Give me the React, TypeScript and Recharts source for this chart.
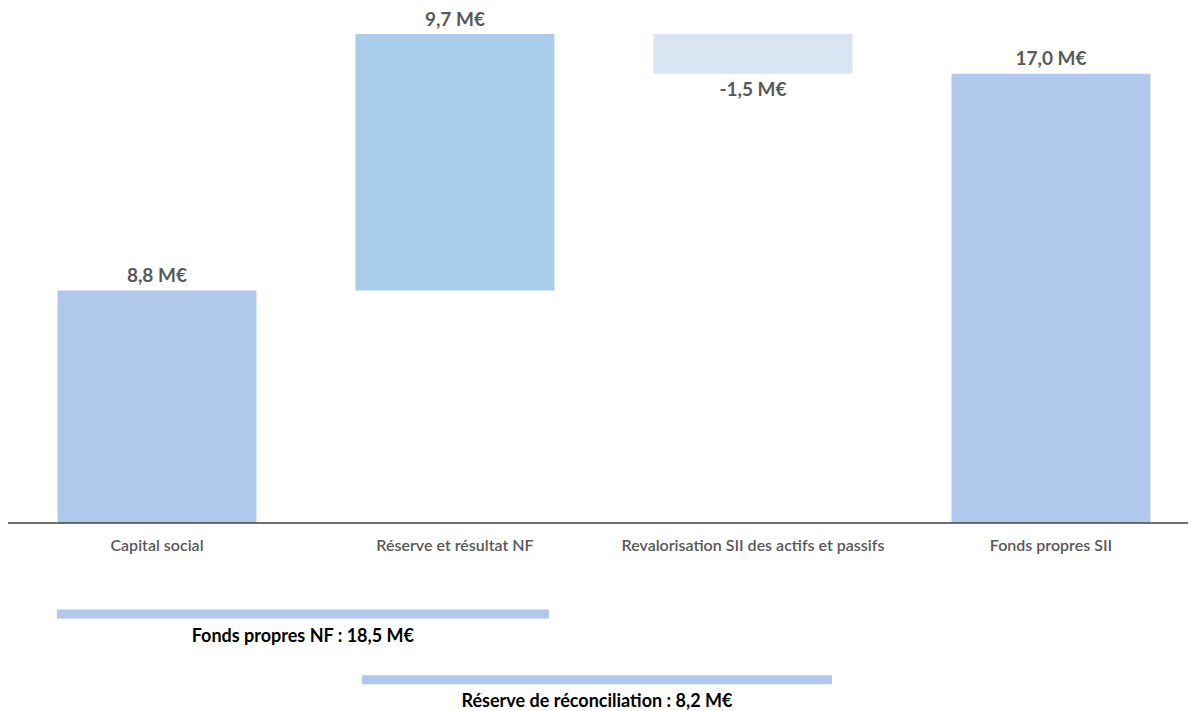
import React from "react";
import { ComposedChart, BarChart, Bar, XAxis, YAxis, Cell, LabelList } from "recharts";

const categories = [
  "Capital social",
  "Réserve et résultat NF",
  "Revalorisation SII des actifs et passifs",
  "Fonds propres SII",
];
const deltas = [8.8, 9.7, -1.5, 17.0];
const kinds = ["total", "step", "step", "total"];
const barColors = ["#afc8ec", "#aacdeb", "#dae5f4", "#afc8ec"];

const bracketLabels = ["Fonds propres NF : 18,5 M€", "Réserve de réconciliation : 8,2 M€"];
const bracketStart = [-0.336, 0.688];
const bracketEnd = [1.315, 2.265];
const bracketColor = "#afc8ec";

const fmt = (v: number) => v.toFixed(1).replace(".", ",") + " M€";

let running = 0;
const data = categories.map((name, i) => {
  const d = deltas[i];
  let base = 0;
  let size = 0;
  if (kinds[i] === "total") {
    base = 0;
    size = d;
    running = d;
  } else if (d >= 0) {
    base = running;
    size = d;
    running += d;
  } else {
    base = running + d;
    size = -d;
    running += d;
  }
  return { name, base, size, label: fmt(d), neg: d < 0 };
});

const bracketData = bracketLabels.map((label, i) => ({
  label,
  base: bracketStart[i],
  len: bracketEnd[i] - bracketStart[i],
}));

const FONT = "Lato, 'Open Sans', sans-serif";

const ValueLabel = (props: any) => {
  const { x, y, width, height, index } = props;
  const item = data[index];
  if (!item) return null;
  const cx = x + width / 2;
  const cy = item.neg ? y + height + 15 : y - 16;
  return (
    <text x={cx} y={cy} textAnchor="middle" dominantBaseline="central"
      fontFamily={FONT} fontWeight={700} fontSize={19} fill="#595959">
      {item.label}
    </text>
  );
};

const BracketLabel = (props: any) => {
  const { x, y, width, height, index } = props;
  const item = bracketData[index];
  if (!item) return null;
  return (
    <text x={x + width / 2} y={y + height + 16} textAnchor="middle" dominantBaseline="central"
      fontFamily={FONT} fontWeight={700} fontSize={18} fill="#000000">
      {item.label}
    </text>
  );
};

export default function App() {
  return (
    <div style={{ position: "relative", width: 1188, height: 703, overflow: "hidden", background: "#fff" }}>
      <div style={{ position: "absolute", left: 0, top: 0 }}>
        <ComposedChart width={1192} height={555} data={data}
          margin={{ top: 26, right: 0, left: 0, bottom: 0 }} barCategoryGap="16.6%">
          <XAxis dataKey="name" height={40} tickLine={false} tickSize={0} tickMargin={17}
            axisLine={{ stroke: "#404040", strokeWidth: 1.5 }}
            tick={{ fontFamily: FONT, fontSize: 16, fontWeight: 600, fill: "#595959" }} interval={0} />
          <YAxis hide domain={[0, 18.5]} />
          <Bar dataKey="base" stackId="w" fill="transparent" isAnimationActive={false} />
          <Bar dataKey="size" stackId="w" isAnimationActive={false}>
            {data.map((d, i) => (
              <Cell key={i} fill={barColors[i]} />
            ))}
            <LabelList dataKey="size" content={ValueLabel} />
          </Bar>
        </ComposedChart>
      </div>
      <div style={{ position: "absolute", left: 0, top: 555 }}>
        <BarChart width={1192} height={150} data={bracketData} layout="vertical"
          margin={{ top: 18.5, right: 0, left: 0, bottom: 0 }}>
          <XAxis type="number" hide domain={[-0.5, 3.5]} allowDataOverflow />
          <YAxis type="category" dataKey="label" hide />
          <Bar dataKey="base" stackId="b" fill="transparent" barSize={9} isAnimationActive={false} />
          <Bar dataKey="len" stackId="b" fill={bracketColor} barSize={9} isAnimationActive={false}>
            <LabelList dataKey="len" content={BracketLabel} />
          </Bar>
        </BarChart>
      </div>
    </div>
  );
}
